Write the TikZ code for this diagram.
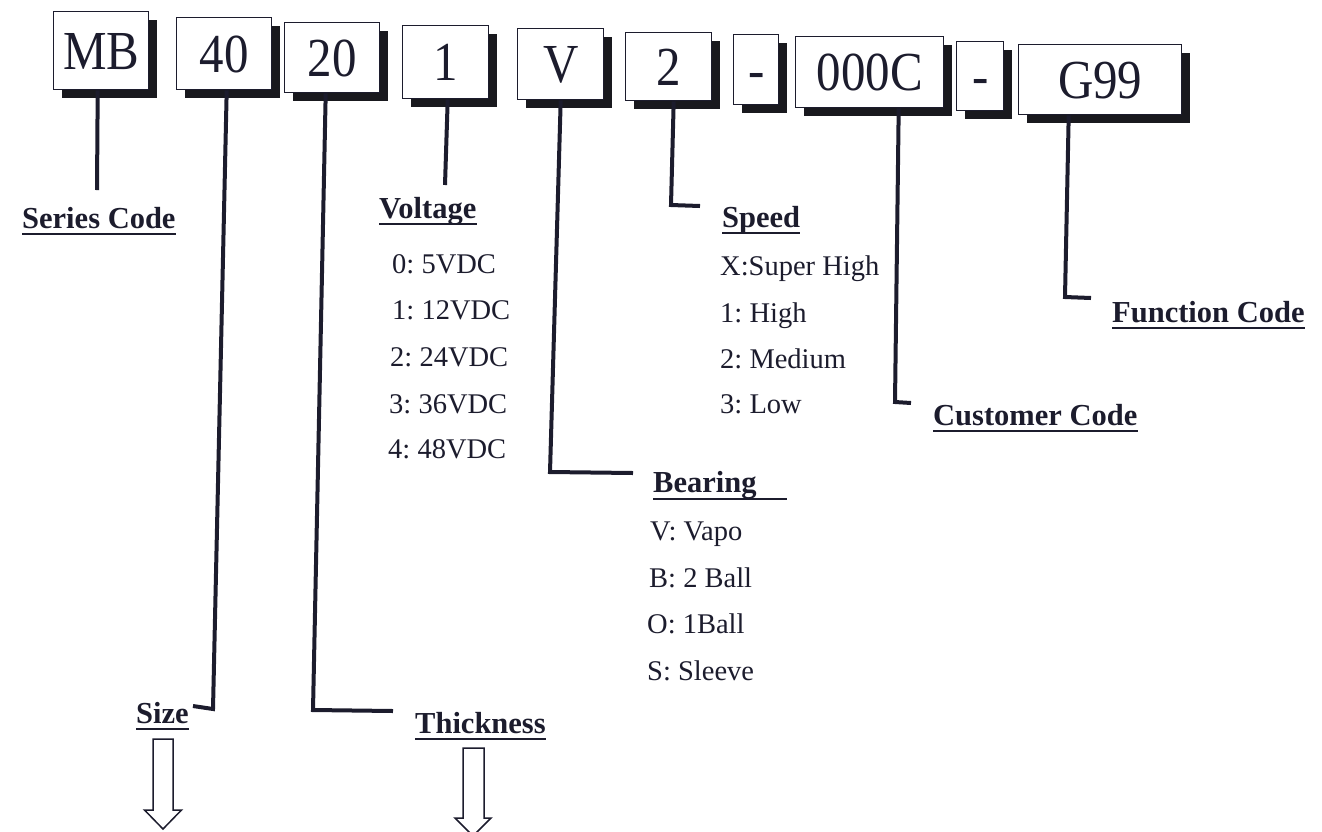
\documentclass[tikz,border=0pt]{standalone}
\usepackage{fontspec}
\setmainfont{Liberation Serif}
\newfontfamily\boxfont[FakeStretch=0.89]{Liberation Serif}
\usetikzlibrary{shadows}
\definecolor{ink}{RGB}{28,28,45}
\definecolor{shade}{RGB}{25,25,30}
\begin{document}
\frenchspacing
\begin{tikzpicture}[x=1pt,y=-1pt,
  codebox/.style={draw=ink, line width=1.4pt, fill=white, anchor=north west, inner sep=0pt,
    text height=37pt, text depth=0pt, font=\boxfont\fontsize{55}{60}\selectfont, text=ink,
    drop shadow={shadow xshift=8pt, shadow yshift=-8pt, fill=shade, opacity=1}},
  conn/.style={draw=ink, line width=4pt, line cap=butt, line join=miter},
  lbl/.style={anchor=base west, inner sep=0pt, font=\frenchspacing\bfseries\fontsize{30.5}{34}\selectfont, text=ink},
  item/.style={anchor=base west, inner sep=0pt, font=\frenchspacing\fontsize{28.5}{32}\selectfont, text=ink},
  ul/.style={draw=ink, line width=2.6pt},
  hollow/.style={draw=ink, line width=1.5pt, fill=white, line join=miter}
]
\useasboundingbox (0,0) rectangle (1322,831);
\clip (0,0) rectangle (1322,831);

% code boxes
\node[codebox, minimum width=95pt, minimum height=78pt] (mb) at (53,11) {MB};
\node[codebox, minimum width=95pt, minimum height=72pt] (b40) at (176,17) {40};
\node[codebox, minimum width=95pt, minimum height=70pt] (b20) at (284,22) {20};
\node[codebox, minimum width=86pt, minimum height=73pt] (b1) at (402,25) {1};
\node[codebox, minimum width=86pt, minimum height=71pt] (bV) at (517,28) {V};
\node[codebox, minimum width=86pt, minimum height=68pt] (b2) at (625,32) {2};
\node[codebox, minimum width=45pt, minimum height=70pt] (d1) at (733,34) {-};
\node[codebox, minimum width=148pt, minimum height=71pt] (bC) at (795,36) {000C};
\node[codebox, minimum width=47pt, minimum height=69pt] (d2) at (956,41) {-};
\node[codebox, minimum width=163pt, minimum height=70pt] (bG) at (1018,44) {G99};

% labels
\node[lbl] (sc) at (22,228) {Series Code};
\node[lbl] (vo) at (379,218) {Voltage};
\node[lbl] (sp) at (722,227) {Speed};
\node[lbl] (br) at (653,492) {Bearing};
\node[lbl] (cc) at (933,425) {Customer Code};
\node[lbl] (fc) at (1112,322) {Function Code};
\node[lbl] (sz) at (136,723) {Size};
\node[lbl] (th) at (415,733) {Thickness};

\foreach \n in {sc,vo,sp,cc,fc,sz,th}
  \draw[ul] ([yshift=-6pt]\n.base west) -- ([yshift=-6pt]\n.base east);
\draw[ul] ([yshift=-7pt]br.base west) -- ([yshift=-7pt,xshift=30pt]br.base east);

% voltage list
\node[item] (v0) at (392,273) {0: 5VDC};
\node[item] (v1) at (392,319) {1: 12VDC};
\node[item] (v2) at (390,366) {2: 24VDC};
\node[item] (v3) at (389,413) {3: 36VDC};
\node[item] (v4) at (388,458) {4: 48VDC};
% speed list
\node[item] (s0) at (720,275) {X:Super High};
\node[item] (s1) at (720,322) {1: High};
\node[item] (s2) at (720,368) {2: Medium};
\node[item] (s3) at (720,413) {3: Low};
% bearing list
\node[item] (r0) at (650,540) {V: Vapo};
\node[item] (r1) at (649,587) {B: 2 Ball};
\node[item] (r2) at (647,633) {O: 1Ball};
\node[item] (r3) at (647,680) {S: Sleeve};

% connector end points
\coordinate (mbE) at (97,190);
\coordinate (szA) at (213,709);
\coordinate (szE) at (193,706);
\coordinate (thA) at (313,710);
\coordinate (thE) at (393,711);
\coordinate (voE) at (445,185);
\coordinate (brA) at (550,472);
\coordinate (brE) at (633,473);
\coordinate (spA) at (671,205);
\coordinate (spE) at (700,206);
\coordinate (ccA) at (895,402);
\coordinate (ccE) at (911,403);
\coordinate (fcA) at (1065,297);
\coordinate (fcE) at (1091,298);

\draw[conn] ([xshift=-3.5pt]mb.south) -- (mbE);
\draw[conn] ([xshift=2.5pt]b40.south) -- (szA) -- (szE);
\draw[conn] ([xshift=-6.5pt]b20.south) -- (thA) -- (thE);
\draw[conn] ([xshift=2pt]b1.south) -- (voE);
\draw[conn] (bV.south) -- (brA) -- (brE);
\draw[conn] ([xshift=5pt]b2.south) -- (spA) -- (spE);
\draw[conn] ([xshift=29pt]bC.south) -- (ccA) -- (ccE);
\draw[conn] ([xshift=-31.5pt]bG.south) -- (fcA) -- (fcE);

% hollow arrows
\draw[hollow] (153,739) -- (173,739) -- (173,810) -- (181.5,810) -- (163,829)
  -- (144.5,810) -- (153,810) -- cycle;
\draw[hollow] (463,748) -- (484,748) -- (484,818) -- (491,818) -- (473,836)
  -- (455,818) -- (463,818) -- cycle;
\end{tikzpicture}
\end{document}
